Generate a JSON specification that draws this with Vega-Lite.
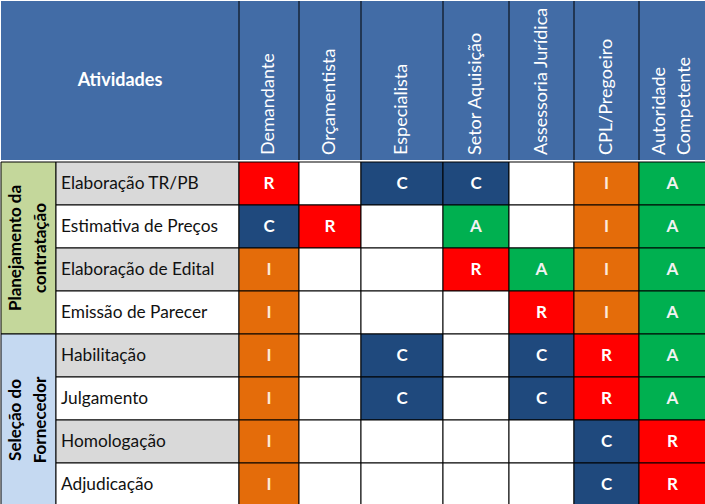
{
  "$schema": "https://vega.github.io/schema/vega-lite/v6.json",
  "padding": 0,
  "spacing": 0,
  "config": {"view": {"stroke": null}, "font": "Lato", "mark": {"clip": true}},
  "resolve": {"scale": {"fill": "independent", "color": "independent", "x": "independent", "y": "independent"}},
  "datasets": {
    "roles": [
      {"role": "Demandante", "label": "Demandante"},
      {"role": "Orçamentista", "label": "Orçamentista"},
      {"role": "Especialista", "label": "Especialista"},
      {"role": "Setor Aquisição", "label": "Setor Aquisição"},
      {"role": "Assessoria Jurídica", "label": "Assessoria Jurídica"},
      {"role": "CPL/Pregoeiro", "label": "CPL/Pregoeiro"},
      {"role": "Autoridade Competente", "label": "Autoridade\nCompetente"}
    ],
    "groups": [
      {"group": "Planejamento da contratação", "label": "Planejamento da\ncontratação"},
      {"group": "Seleção do Fornecedor", "label": "Seleção do\nFornecedor"}
    ],
    "activities": [
      {"activity": "Elaboração TR/PB", "order": 1},
      {"activity": "Estimativa de Preços", "order": 2},
      {"activity": "Elaboração de Edital", "order": 3},
      {"activity": "Emissão de Parecer", "order": 4},
      {"activity": "Habilitação", "order": 5},
      {"activity": "Julgamento", "order": 6},
      {"activity": "Homologação", "order": 7},
      {"activity": "Adjudicação", "order": 8}
    ],
    "cells": [
      {"activity": "Elaboração TR/PB", "role": "Demandante", "code": "R"},
      {"activity": "Elaboração TR/PB", "role": "Orçamentista", "code": ""},
      {"activity": "Elaboração TR/PB", "role": "Especialista", "code": "C"},
      {"activity": "Elaboração TR/PB", "role": "Setor Aquisição", "code": "C"},
      {"activity": "Elaboração TR/PB", "role": "Assessoria Jurídica", "code": ""},
      {"activity": "Elaboração TR/PB", "role": "CPL/Pregoeiro", "code": "I"},
      {"activity": "Elaboração TR/PB", "role": "Autoridade Competente", "code": "A"},
      {"activity": "Estimativa de Preços", "role": "Demandante", "code": "C"},
      {"activity": "Estimativa de Preços", "role": "Orçamentista", "code": "R"},
      {"activity": "Estimativa de Preços", "role": "Especialista", "code": ""},
      {"activity": "Estimativa de Preços", "role": "Setor Aquisição", "code": "A"},
      {"activity": "Estimativa de Preços", "role": "Assessoria Jurídica", "code": ""},
      {"activity": "Estimativa de Preços", "role": "CPL/Pregoeiro", "code": "I"},
      {"activity": "Estimativa de Preços", "role": "Autoridade Competente", "code": "A"},
      {"activity": "Elaboração de Edital", "role": "Demandante", "code": "I"},
      {"activity": "Elaboração de Edital", "role": "Orçamentista", "code": ""},
      {"activity": "Elaboração de Edital", "role": "Especialista", "code": ""},
      {"activity": "Elaboração de Edital", "role": "Setor Aquisição", "code": "R"},
      {"activity": "Elaboração de Edital", "role": "Assessoria Jurídica", "code": "A"},
      {"activity": "Elaboração de Edital", "role": "CPL/Pregoeiro", "code": "I"},
      {"activity": "Elaboração de Edital", "role": "Autoridade Competente", "code": "A"},
      {"activity": "Emissão de Parecer", "role": "Demandante", "code": "I"},
      {"activity": "Emissão de Parecer", "role": "Orçamentista", "code": ""},
      {"activity": "Emissão de Parecer", "role": "Especialista", "code": ""},
      {"activity": "Emissão de Parecer", "role": "Setor Aquisição", "code": ""},
      {"activity": "Emissão de Parecer", "role": "Assessoria Jurídica", "code": "R"},
      {"activity": "Emissão de Parecer", "role": "CPL/Pregoeiro", "code": "I"},
      {"activity": "Emissão de Parecer", "role": "Autoridade Competente", "code": "A"},
      {"activity": "Habilitação", "role": "Demandante", "code": "I"},
      {"activity": "Habilitação", "role": "Orçamentista", "code": ""},
      {"activity": "Habilitação", "role": "Especialista", "code": "C"},
      {"activity": "Habilitação", "role": "Setor Aquisição", "code": ""},
      {"activity": "Habilitação", "role": "Assessoria Jurídica", "code": "C"},
      {"activity": "Habilitação", "role": "CPL/Pregoeiro", "code": "R"},
      {"activity": "Habilitação", "role": "Autoridade Competente", "code": "A"},
      {"activity": "Julgamento", "role": "Demandante", "code": "I"},
      {"activity": "Julgamento", "role": "Orçamentista", "code": ""},
      {"activity": "Julgamento", "role": "Especialista", "code": "C"},
      {"activity": "Julgamento", "role": "Setor Aquisição", "code": ""},
      {"activity": "Julgamento", "role": "Assessoria Jurídica", "code": "C"},
      {"activity": "Julgamento", "role": "CPL/Pregoeiro", "code": "R"},
      {"activity": "Julgamento", "role": "Autoridade Competente", "code": "A"},
      {"activity": "Homologação", "role": "Demandante", "code": "I"},
      {"activity": "Homologação", "role": "Orçamentista", "code": ""},
      {"activity": "Homologação", "role": "Especialista", "code": ""},
      {"activity": "Homologação", "role": "Setor Aquisição", "code": ""},
      {"activity": "Homologação", "role": "Assessoria Jurídica", "code": ""},
      {"activity": "Homologação", "role": "CPL/Pregoeiro", "code": "C"},
      {"activity": "Homologação", "role": "Autoridade Competente", "code": "R"},
      {"activity": "Adjudicação", "role": "Demandante", "code": "I"},
      {"activity": "Adjudicação", "role": "Orçamentista", "code": ""},
      {"activity": "Adjudicação", "role": "Especialista", "code": ""},
      {"activity": "Adjudicação", "role": "Setor Aquisição", "code": ""},
      {"activity": "Adjudicação", "role": "Assessoria Jurídica", "code": ""},
      {"activity": "Adjudicação", "role": "CPL/Pregoeiro", "code": "C"},
      {"activity": "Adjudicação", "role": "Autoridade Competente", "code": "R"}
    ]
  },
  "vconcat": [
    {
      "spacing": 0,
      "bounds": "flush",
      "resolve": {"scale": {"fill": "independent", "color": "independent", "x": "independent", "y": "independent"}},
      "hconcat": [
        {
          "width": 238, "height": 159,
          "view": {"fill": "#426CA6", "stroke": null},
          "data": {"values": [{"title": "Atividades"}]},
          "mark": {"type": "text", "fontWeight": "bold", "fontSize": 18, "color": "white", "align": "center", "baseline": "middle"},
          "encoding": {"text": {"field": "title"}}
        },
        {
          "width": 60, "height": 159, "view": {"fill": "#426CA6", "stroke": null},
          "data": {"name": "roles"}, "transform": [{"filter": {"field": "role", "equal": "Demandante"}}],
          "layer": [
            {"mark": {"type": "rule", "color": "black"}, "encoding": {"x": {"field": "role", "type": "nominal", "bandPosition": 0, "axis": null, "scale": {"paddingInner": 0, "paddingOuter": 0}}}},
            {"mark": {"type": "text", "angle": 270, "align": "left", "baseline": "middle", "y": "height", "dx": 5, "fontSize": 18, "color": "white"}, "encoding": {"text": {"field": "label"}}}
          ]
        },
        {
          "width": 62, "height": 159, "view": {"fill": "#426CA6", "stroke": null},
          "data": {"name": "roles"}, "transform": [{"filter": {"field": "role", "equal": "Orçamentista"}}],
          "layer": [
            {"mark": {"type": "rule", "color": "black"}, "encoding": {"x": {"field": "role", "type": "nominal", "bandPosition": 0, "axis": null, "scale": {"paddingInner": 0, "paddingOuter": 0}}}},
            {"mark": {"type": "text", "angle": 270, "align": "left", "baseline": "middle", "y": "height", "dx": 5, "fontSize": 18, "color": "white"}, "encoding": {"text": {"field": "label"}}}
          ]
        },
        {
          "width": 82, "height": 159, "view": {"fill": "#426CA6", "stroke": null},
          "data": {"name": "roles"}, "transform": [{"filter": {"field": "role", "equal": "Especialista"}}],
          "layer": [
            {"mark": {"type": "rule", "color": "black"}, "encoding": {"x": {"field": "role", "type": "nominal", "bandPosition": 0, "axis": null, "scale": {"paddingInner": 0, "paddingOuter": 0}}}},
            {"mark": {"type": "text", "angle": 270, "align": "left", "baseline": "middle", "y": "height", "dx": 5, "fontSize": 18, "color": "white"}, "encoding": {"text": {"field": "label"}}}
          ]
        },
        {
          "width": 66, "height": 159, "view": {"fill": "#426CA6", "stroke": null},
          "data": {"name": "roles"}, "transform": [{"filter": {"field": "role", "equal": "Setor Aquisição"}}],
          "layer": [
            {"mark": {"type": "rule", "color": "black"}, "encoding": {"x": {"field": "role", "type": "nominal", "bandPosition": 0, "axis": null, "scale": {"paddingInner": 0, "paddingOuter": 0}}}},
            {"mark": {"type": "text", "angle": 270, "align": "left", "baseline": "middle", "y": "height", "dx": 5, "fontSize": 18, "color": "white"}, "encoding": {"text": {"field": "label"}}}
          ]
        },
        {
          "width": 65, "height": 159, "view": {"fill": "#426CA6", "stroke": null},
          "data": {"name": "roles"}, "transform": [{"filter": {"field": "role", "equal": "Assessoria Jurídica"}}],
          "layer": [
            {"mark": {"type": "rule", "color": "black"}, "encoding": {"x": {"field": "role", "type": "nominal", "bandPosition": 0, "axis": null, "scale": {"paddingInner": 0, "paddingOuter": 0}}}},
            {"mark": {"type": "text", "angle": 270, "align": "left", "baseline": "middle", "y": "height", "dx": 5, "fontSize": 18, "color": "white"}, "encoding": {"text": {"field": "label"}}}
          ]
        },
        {
          "width": 65, "height": 159, "view": {"fill": "#426CA6", "stroke": null},
          "data": {"name": "roles"}, "transform": [{"filter": {"field": "role", "equal": "CPL/Pregoeiro"}}],
          "layer": [
            {"mark": {"type": "rule", "color": "black"}, "encoding": {"x": {"field": "role", "type": "nominal", "bandPosition": 0, "axis": null, "scale": {"paddingInner": 0, "paddingOuter": 0}}}},
            {"mark": {"type": "text", "angle": 270, "align": "left", "baseline": "middle", "y": "height", "dx": 5, "fontSize": 18, "color": "white"}, "encoding": {"text": {"field": "label"}}}
          ]
        },
        {
          "width": 67, "height": 159, "view": {"fill": "#426CA6", "stroke": null},
          "data": {"name": "roles"}, "transform": [{"filter": {"field": "role", "equal": "Autoridade Competente"}}],
          "layer": [
            {"mark": {"type": "rule", "color": "black"}, "encoding": {"x": {"field": "role", "type": "nominal", "bandPosition": 0, "axis": null, "scale": {"paddingInner": 0, "paddingOuter": 0}}}},
            {"mark": {"type": "text", "angle": 270, "align": "left", "baseline": "middle", "y": "height", "dx": 5, "dy": -12.5, "fontSize": 18, "color": "white", "lineBreak": "\n", "lineHeight": 25}, "encoding": {"text": {"field": "label"}}}
          ]
        }
      ]
    },
    {
      "spacing": 0,
      "bounds": "flush",
      "resolve": {"scale": {"fill": "independent", "color": "independent", "x": "independent", "y": "independent"}},
      "hconcat": [
        {
          "width": 55, "height": 344,
          "data": {"name": "groups"},
          "layer": [
            {
              "mark": {"type": "rect", "stroke": "black", "strokeWidth": 1},
              "encoding": {
                "y": {"field": "group", "type": "nominal", "sort": null, "axis": null, "scale": {"paddingInner": 0, "paddingOuter": 0}},
                "fill": {"field": "group", "type": "nominal", "legend": null, "scale": {"domain": ["Planejamento da contratação", "Seleção do Fornecedor"], "range": ["#C4D79B", "#C5D9F1"]}}
              }
            },
            {
              "mark": {"type": "text", "angle": 270, "align": "center", "baseline": "middle", "dy": -12.5, "fontWeight": "bold", "fontSize": 17, "color": "black", "lineBreak": "\n", "lineHeight": 25},
              "encoding": {
                "y": {"field": "group", "type": "nominal", "sort": null, "axis": null, "scale": {"paddingInner": 0, "paddingOuter": 0}},
                "text": {"field": "label"}
              }
            }
          ]
        },
        {
          "width": 183, "height": 344,
          "data": {"name": "activities"},
          "layer": [
            {
              "mark": {"type": "rect", "stroke": "black", "strokeWidth": 1},
              "encoding": {
                "y": {"field": "activity", "type": "nominal", "sort": null, "axis": null, "scale": {"paddingInner": 0, "paddingOuter": 0}},
                "fill": {"condition": {"test": "datum.order % 2 == 1", "value": "#D9D9D9"}, "value": "#FFFFFF"}
              }
            },
            {
              "mark": {"type": "text", "align": "left", "baseline": "middle", "x": 0, "dx": 5, "fontSize": 17.3, "color": "#111111"},
              "encoding": {
                "y": {"field": "activity", "type": "nominal", "sort": null, "axis": null, "scale": {"paddingInner": 0, "paddingOuter": 0}},
                "text": {"field": "activity"}
              }
            }
          ]
        },
        {
          "width": 60, "height": 344, "data": {"name": "cells"}, "transform": [{"filter": {"field": "role", "equal": "Demandante"}}],
          "encoding": {"y": {"field": "activity", "type": "nominal", "sort": null, "axis": null, "scale": {"paddingInner": 0, "paddingOuter": 0}}},
          "layer": [
            {"mark": {"type": "rect", "stroke": "black", "strokeWidth": 1}, "encoding": {"fill": {"field": "code", "type": "nominal", "legend": null, "scale": {"domain": ["R", "A", "C", "I", ""], "range": ["#FF0000", "#00B050", "#1F497D", "#E46C0A", "#FFFFFF"]}}}},
            {"mark": {"type": "text", "align": "center", "baseline": "middle", "fontWeight": "bold", "fontSize": 17}, "encoding": {"text": {"field": "code"}, "color": {"field": "code", "type": "nominal", "legend": null, "scale": {"domain": ["R", "A", "C", "I", ""], "range": ["#FFFFFF", "#F2F2F2", "#FFFFFF", "#FDE9D9", "#FFFFFF"]}}}}
          ]
        },
        {
          "width": 62, "height": 344, "data": {"name": "cells"}, "transform": [{"filter": {"field": "role", "equal": "Orçamentista"}}],
          "encoding": {"y": {"field": "activity", "type": "nominal", "sort": null, "axis": null, "scale": {"paddingInner": 0, "paddingOuter": 0}}},
          "layer": [
            {"mark": {"type": "rect", "stroke": "black", "strokeWidth": 1}, "encoding": {"fill": {"field": "code", "type": "nominal", "legend": null, "scale": {"domain": ["R", "A", "C", "I", ""], "range": ["#FF0000", "#00B050", "#1F497D", "#E46C0A", "#FFFFFF"]}}}},
            {"mark": {"type": "text", "align": "center", "baseline": "middle", "fontWeight": "bold", "fontSize": 17}, "encoding": {"text": {"field": "code"}, "color": {"field": "code", "type": "nominal", "legend": null, "scale": {"domain": ["R", "A", "C", "I", ""], "range": ["#FFFFFF", "#F2F2F2", "#FFFFFF", "#FDE9D9", "#FFFFFF"]}}}}
          ]
        },
        {
          "width": 82, "height": 344, "data": {"name": "cells"}, "transform": [{"filter": {"field": "role", "equal": "Especialista"}}],
          "encoding": {"y": {"field": "activity", "type": "nominal", "sort": null, "axis": null, "scale": {"paddingInner": 0, "paddingOuter": 0}}},
          "layer": [
            {"mark": {"type": "rect", "stroke": "black", "strokeWidth": 1}, "encoding": {"fill": {"field": "code", "type": "nominal", "legend": null, "scale": {"domain": ["R", "A", "C", "I", ""], "range": ["#FF0000", "#00B050", "#1F497D", "#E46C0A", "#FFFFFF"]}}}},
            {"mark": {"type": "text", "align": "center", "baseline": "middle", "fontWeight": "bold", "fontSize": 17}, "encoding": {"text": {"field": "code"}, "color": {"field": "code", "type": "nominal", "legend": null, "scale": {"domain": ["R", "A", "C", "I", ""], "range": ["#FFFFFF", "#F2F2F2", "#FFFFFF", "#FDE9D9", "#FFFFFF"]}}}}
          ]
        },
        {
          "width": 66, "height": 344, "data": {"name": "cells"}, "transform": [{"filter": {"field": "role", "equal": "Setor Aquisição"}}],
          "encoding": {"y": {"field": "activity", "type": "nominal", "sort": null, "axis": null, "scale": {"paddingInner": 0, "paddingOuter": 0}}},
          "layer": [
            {"mark": {"type": "rect", "stroke": "black", "strokeWidth": 1}, "encoding": {"fill": {"field": "code", "type": "nominal", "legend": null, "scale": {"domain": ["R", "A", "C", "I", ""], "range": ["#FF0000", "#00B050", "#1F497D", "#E46C0A", "#FFFFFF"]}}}},
            {"mark": {"type": "text", "align": "center", "baseline": "middle", "fontWeight": "bold", "fontSize": 17}, "encoding": {"text": {"field": "code"}, "color": {"field": "code", "type": "nominal", "legend": null, "scale": {"domain": ["R", "A", "C", "I", ""], "range": ["#FFFFFF", "#F2F2F2", "#FFFFFF", "#FDE9D9", "#FFFFFF"]}}}}
          ]
        },
        {
          "width": 65, "height": 344, "data": {"name": "cells"}, "transform": [{"filter": {"field": "role", "equal": "Assessoria Jurídica"}}],
          "encoding": {"y": {"field": "activity", "type": "nominal", "sort": null, "axis": null, "scale": {"paddingInner": 0, "paddingOuter": 0}}},
          "layer": [
            {"mark": {"type": "rect", "stroke": "black", "strokeWidth": 1}, "encoding": {"fill": {"field": "code", "type": "nominal", "legend": null, "scale": {"domain": ["R", "A", "C", "I", ""], "range": ["#FF0000", "#00B050", "#1F497D", "#E46C0A", "#FFFFFF"]}}}},
            {"mark": {"type": "text", "align": "center", "baseline": "middle", "fontWeight": "bold", "fontSize": 17}, "encoding": {"text": {"field": "code"}, "color": {"field": "code", "type": "nominal", "legend": null, "scale": {"domain": ["R", "A", "C", "I", ""], "range": ["#FFFFFF", "#F2F2F2", "#FFFFFF", "#FDE9D9", "#FFFFFF"]}}}}
          ]
        },
        {
          "width": 65, "height": 344, "data": {"name": "cells"}, "transform": [{"filter": {"field": "role", "equal": "CPL/Pregoeiro"}}],
          "encoding": {"y": {"field": "activity", "type": "nominal", "sort": null, "axis": null, "scale": {"paddingInner": 0, "paddingOuter": 0}}},
          "layer": [
            {"mark": {"type": "rect", "stroke": "black", "strokeWidth": 1}, "encoding": {"fill": {"field": "code", "type": "nominal", "legend": null, "scale": {"domain": ["R", "A", "C", "I", ""], "range": ["#FF0000", "#00B050", "#1F497D", "#E46C0A", "#FFFFFF"]}}}},
            {"mark": {"type": "text", "align": "center", "baseline": "middle", "fontWeight": "bold", "fontSize": 17}, "encoding": {"text": {"field": "code"}, "color": {"field": "code", "type": "nominal", "legend": null, "scale": {"domain": ["R", "A", "C", "I", ""], "range": ["#FFFFFF", "#F2F2F2", "#FFFFFF", "#FDE9D9", "#FFFFFF"]}}}}
          ]
        },
        {
          "width": 67, "height": 344, "data": {"name": "cells"}, "transform": [{"filter": {"field": "role", "equal": "Autoridade Competente"}}],
          "encoding": {"y": {"field": "activity", "type": "nominal", "sort": null, "axis": null, "scale": {"paddingInner": 0, "paddingOuter": 0}}},
          "layer": [
            {"mark": {"type": "rect", "stroke": "black", "strokeWidth": 1}, "encoding": {"fill": {"field": "code", "type": "nominal", "legend": null, "scale": {"domain": ["R", "A", "C", "I", ""], "range": ["#FF0000", "#00B050", "#1F497D", "#E46C0A", "#FFFFFF"]}}}},
            {"mark": {"type": "text", "align": "center", "baseline": "middle", "fontWeight": "bold", "fontSize": 17}, "encoding": {"text": {"field": "code"}, "color": {"field": "code", "type": "nominal", "legend": null, "scale": {"domain": ["R", "A", "C", "I", ""], "range": ["#FFFFFF", "#F2F2F2", "#FFFFFF", "#FDE9D9", "#FFFFFF"]}}}}
          ]
        }
      ]
    }
  ]
}
